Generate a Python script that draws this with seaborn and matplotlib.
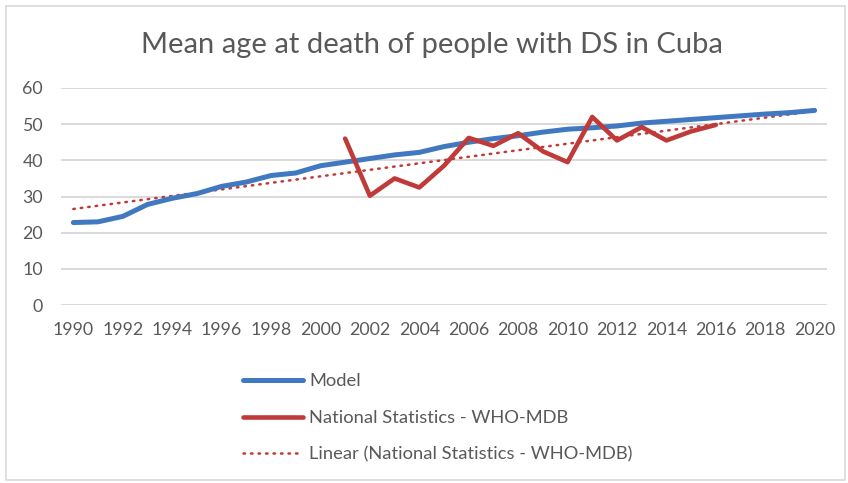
import numpy as np
import pandas as pd
import matplotlib
matplotlib.use("Agg")
import matplotlib.pyplot as plt
import seaborn as sns
from matplotlib.patches import Rectangle

years = list(range(1990, 2021))
model_age = [22.8, 23.0, 24.5, 27.8, 29.5, 30.8, 32.8, 34.0, 35.8, 36.5,
             38.5, 39.5, 40.5, 41.5, 42.2, 43.8, 45.0, 46.0, 46.8, 47.8,
             48.6, 49.0, 49.5, 50.3, 50.8, 51.3, 51.8, 52.3, 52.8, 53.2, 53.8]
stat_years = list(range(2001, 2017))
stat_age = [46.0, 30.2, 35.0, 32.5, 38.5, 46.2, 44.0, 47.5, 42.5, 39.5,
            52.0, 45.5, 49.2, 45.5, 48.0, 49.8]
y_ticks = [0, 10, 20, 30, 40, 50, 60]
x_ticks = list(range(1990, 2021, 2))

title = "Mean age at death of people with DS in Cuba"
labels = ["Model", "National Statistics - WHO-MDB",
          "Linear (National Statistics - WHO-MDB)"]

BLUE = "#4179c0"
RED = "#bf3a38"
TEXT = "#595959"
GRID = "#d9d9d9"

sns.set_theme(style="white")
plt.rcParams["font.family"] = ["Lato", "DejaVu Sans"]

fig = plt.figure(figsize=(8.48, 4.83), dpi=100)
W, H = 848, 483
ax = fig.add_axes([61 / W, 1 - 305 / H, (827 - 61) / W, (305 - 88) / H])

model_df = pd.DataFrame({"year": years, "age": model_age})
stat_df = pd.DataFrame({"year": stat_years, "age": stat_age})

# least-squares trend of the national series, extended over the full span
slope, intercept = np.polyfit(stat_years, stat_age, 1)
trend_df = pd.DataFrame({"year": years,
                         "age": [slope * y + intercept for y in years]})

for yv in y_ticks:
    ax.axhline(yv, color=GRID, lw=1.4, zorder=0)

sns.lineplot(data=model_df, x="year", y="age", ax=ax, color=BLUE,
             lw=3.6, solid_capstyle="round", label=labels[0], zorder=3)
sns.lineplot(data=stat_df, x="year", y="age", ax=ax, color=RED,
             lw=3.3, solid_capstyle="round", label=labels[1], zorder=4)
sns.lineplot(data=trend_df, x="year", y="age", ax=ax, color=RED,
             lw=1.8, linestyle=(0, (0.6, 2.4)), dash_capstyle="round",
             label=labels[2], zorder=2)

ax.set_xlim(1989.5, 2020.5)
ax.set_ylim(0, 60)
ax.set_xticks(x_ticks)
ax.set_yticks(y_ticks)
ax.set_xlabel("")
ax.set_ylabel("")
ax.tick_params(axis="both", length=0, labelsize=12.8, labelcolor=TEXT)
ax.tick_params(axis="x", pad=12)
ax.tick_params(axis="y", pad=13)
for s in ax.spines.values():
    s.set_visible(False)
ax.set_facecolor("none")

handles, lbls = ax.get_legend_handles_labels()
ax.get_legend().remove()
fig.legend(handles, lbls, loc="upper left",
           bbox_to_anchor=(226 / W, 1 - 357 / H), frameon=False,
           fontsize=13.2, labelcolor=TEXT, handlelength=3.3,
           handletextpad=0.33, labelspacing=1.12)

fig.text(432 / W, 1 - 45 / H, title, ha="center", va="center",
         fontsize=21, color=TEXT)

fig.patches.append(Rectangle((6 / W, 3 / H), (W - 9) / W, (H - 9) / H,
                             transform=fig.transFigure, fill=False,
                             edgecolor=GRID, lw=1.2))

fig.savefig("out.png", dpi=100, facecolor="white")
